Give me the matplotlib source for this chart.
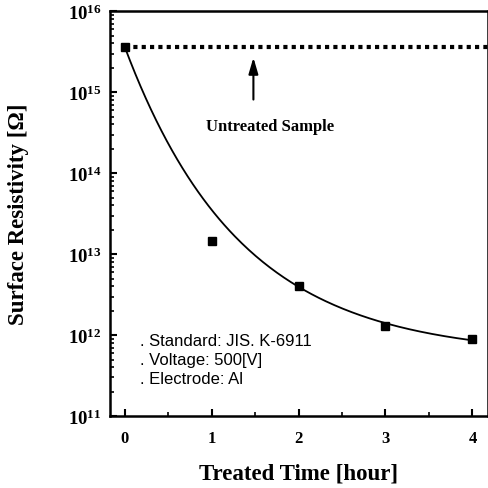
#!/usr/bin/env python3
"""
Surface resistivity vs. treated time (log scale) chart
"""

import numpy as np
import matplotlib.pyplot as plt
from matplotlib.ticker import LogLocator, NullFormatter, FixedLocator

# Data
treated_hours = [0, 1, 2, 3, 4]
resistivity = [3.6e15, 1.45e13, 4.1e12, 1.3e12, 9.0e11]
# the original curve ignores the 1 h point (it passes well above it)
fit_weights = [1.0, 0.0, 1.0, 1.0, 1.0]
untreated_level = 3.6e15
x_ticks = [0, 1, 2, 3, 4]
y_ticks = [1e11, 1e12, 1e13, 1e14, 1e15, 1e16]
y_tick_labels = [r'$\mathbf{10^{11}}$', r'$\mathbf{10^{12}}$', r'$\mathbf{10^{13}}$',
                 r'$\mathbf{10^{14}}$', r'$\mathbf{10^{15}}$', r'$\mathbf{10^{16}}$']
notes = ['. Standard: JIS. K-6911', '. Voltage: 500[V]', '. Electrode: Al']

plt.rcParams['font.family'] = 'Liberation Serif'
plt.rcParams['mathtext.fontset'] = 'custom'
plt.rcParams['mathtext.rm'] = 'Liberation Serif'
plt.rcParams['mathtext.bf'] = 'Liberation Serif:bold'

# Exponential decay fit in log space: log10(R) = A*exp(-k t) + C
t = np.array(treated_hours, dtype=float)
logr = np.log10(resistivity)
w = np.sqrt(np.array(fit_weights))
best = None
for k in np.linspace(0.2, 2.0, 361):
    M = np.column_stack([np.exp(-k * t), np.ones_like(t)])
    coef, *_ = np.linalg.lstsq(M * w[:, None], logr * w, rcond=None)
    err = np.sum(((M @ coef - logr) * w) ** 2)
    if best is None or err < best[0]:
        best = (err, k, coef)
_, k_fit, (a_fit, c_fit) = best
t_fit = np.linspace(0, 4, 200)
r_fit = 10 ** (a_fit * np.exp(-k_fit * t_fit) + c_fit)

fig = plt.figure(figsize=(4.89, 4.89), dpi=100)
ax = fig.add_axes([0.225, 0.147, 0.773, 0.828])

ax.plot(t_fit, r_fit, color='black', linewidth=1.3)
ax.plot(treated_hours, resistivity, linestyle='none', marker='s', markersize=6,
        color='black')
ax.plot([0, 4.2], [untreated_level, untreated_level], color='black', linewidth=3,
        linestyle=(0, (1, 1)))

ax.annotate('', xy=(1.48, 2.9e15), xytext=(1.48, 7.5e14),
            arrowprops=dict(arrowstyle='-|>,head_width=0.22,head_length=0.75',
                            color='black', lw=1.5, mutation_scale=13))
ax.text(1.67, 3.8e14, 'Untreated Sample', ha='center', va='center',
        fontsize=12, fontweight='bold')

for i, line in enumerate(notes):
    ax.text(0.18, 10 ** (11.93 - i * 0.235), line, ha='left', va='center',
            fontsize=12, family='Liberation Sans')

ax.set_yscale('log')
ax.set_xlim(-0.17, 4.18)
ax.set_ylim(1e11, 1e16)
ax.xaxis.set_major_locator(FixedLocator(x_ticks))
ax.xaxis.set_minor_locator(FixedLocator([0.5, 1.5, 2.5, 3.5]))
ax.set_xticklabels([str(v) for v in x_ticks], fontsize=12, fontweight='bold')
ax.yaxis.set_major_locator(FixedLocator(y_ticks))
ax.set_yticklabels(y_tick_labels, fontsize=13.5)
ax.yaxis.set_minor_locator(LogLocator(base=10, subs=np.arange(2, 10), numticks=20))
ax.yaxis.set_minor_formatter(NullFormatter())
ax.tick_params(which='major', direction='in', length=5, width=1.5, pad=6)
ax.tick_params(which='minor', direction='in', length=3, width=1.2)
ax.tick_params(axis='x', which='major', pad=10)

for s in ax.spines.values():
    s.set_linewidth(1.8)

ax.set_xlabel('Treated Time [hour]', fontsize=16.5, fontweight='bold', labelpad=12)
ax.set_ylabel('Surface Resistivity [\u03a9]', fontsize=16.5, fontweight='bold', labelpad=28)

plt.savefig('out.png', dpi=100)
plt.close()
